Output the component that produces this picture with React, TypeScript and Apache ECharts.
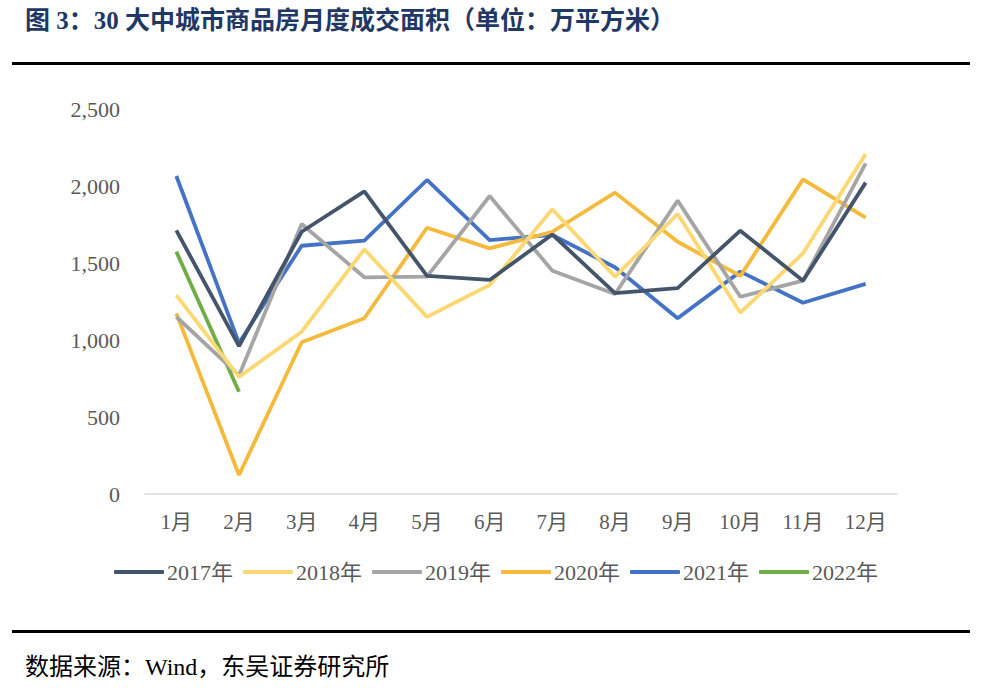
import React, { useEffect, useRef } from "react";
import * as echarts from "echarts";

const months = ["1月", "2月", "3月", "4月", "5月", "6月", "7月", "8月", "9月", "10月", "11月", "12月"];
const y2017 = [1712, 960, 1703, 1965, 1416, 1390, 1685, 1304, 1337, 1710, 1385, 2022];
const y2018 = [1292, 760, 1054, 1589, 1150, 1357, 1849, 1411, 1818, 1177, 1563, 2208];
const y2019 = [1151, 770, 1753, 1407, 1411, 1935, 1450, 1299, 1905, 1281, 1385, 2147];
const y2020 = [1173, 123, 985, 1141, 1729, 1595, 1703, 1957, 1638, 1416, 2043, 1794];
const y2021 = [2065, 980, 1612, 1645, 2039, 1649, 1682, 1472, 1141, 1444, 1242, 1364];
const y2022 = [1574, 664];
const seriesNames = ["2017年", "2018年", "2019年", "2020年", "2021年", "2022年"];
const seriesColors = ["#44546A", "#FBD872", "#A5A5A5", "#F5BA3C", "#4472C4", "#70AD47"];
const yTicks = [0, 500, 1000, 1500, 2000, 2500];

const SERIF = '"Liberation Serif", "Times New Roman", "Noto Sans CJK SC", serif';

export default function App() {
  const ref = useRef<HTMLDivElement>(null);
  useEffect(() => {
    if (!ref.current) return;
    const chart = echarts.init(ref.current, undefined, { renderer: "svg" });
    const data = [y2017, y2018, y2019, y2020, y2021, y2022];
    chart.setOption({
      animation: false,
      backgroundColor: "#ffffff",
      textStyle: { fontFamily: SERIF },
      grid: { left: 145, right: 95, top: 109, bottom: 194 },
      legend: {
        top: 556,
        left: "center",
        itemWidth: 50,
        itemHeight: 4,
        itemGap: 10,
        icon: "roundRect",
        textStyle: { fontSize: 22, color: "#595959", fontFamily: SERIF, padding: [0, 0, 0, -2] },
        data: seriesNames,
      },
      xAxis: {
        type: "category",
        data: months,
        boundaryGap: true,
        axisLine: { lineStyle: { color: "#D9D9D9", width: 1.5 } },
        axisTick: { show: false },
        axisLabel: { fontSize: 21, color: "#595959", margin: 17, fontFamily: SERIF },
      },
      yAxis: {
        type: "value",
        min: yTicks[0],
        max: yTicks[yTicks.length - 1],
        interval: 500,
        splitLine: { show: false },
        axisLine: { show: false },
        axisTick: { show: false },
        axisLabel: {
          fontSize: 22,
          color: "#595959",
          margin: 25,
          fontFamily: SERIF,
          formatter: (v: number) => v.toLocaleString("en-US"),
        },
      },
      series: seriesNames.map((name, i) => ({
        name,
        type: "line",
        data: data[i],
        symbol: "none",
        lineStyle: { color: seriesColors[i], width: 3.8 },
        itemStyle: { color: seriesColors[i] },
        z: 10 - i,
      })),
      graphic: [
        {
          type: "text",
          left: 25,
          top: 8,
          style: {
            text: "图 3：30 大中城市商品房月度成交面积（单位：万平方米）",
            font: 'bold 25px "Liberation Serif", "Noto Sans CJK SC", serif',
            fill: "#1F3864",
          },
        },
        {
          type: "rect",
          shape: { x: 12, y: 62, width: 958, height: 3 },
          style: { fill: "#000000" },
        },
        {
          type: "rect",
          shape: { x: 12, y: 630, width: 958, height: 3 },
          style: { fill: "#000000" },
        },
        {
          type: "text",
          left: 25,
          top: 655,
          style: {
            text: "数据来源：Wind，东吴证券研究所",
            font: '24px "Liberation Serif", "Noto Sans CJK SC", serif',
            fill: "#000000",
          },
        },
      ],
    });
    return () => chart.dispose();
  }, []);
  return (
    <div
      ref={ref}
      style={{ position: "fixed", left: 0, top: 0, width: 992, height: 688, background: "#fff" }}
    />
  );
}
